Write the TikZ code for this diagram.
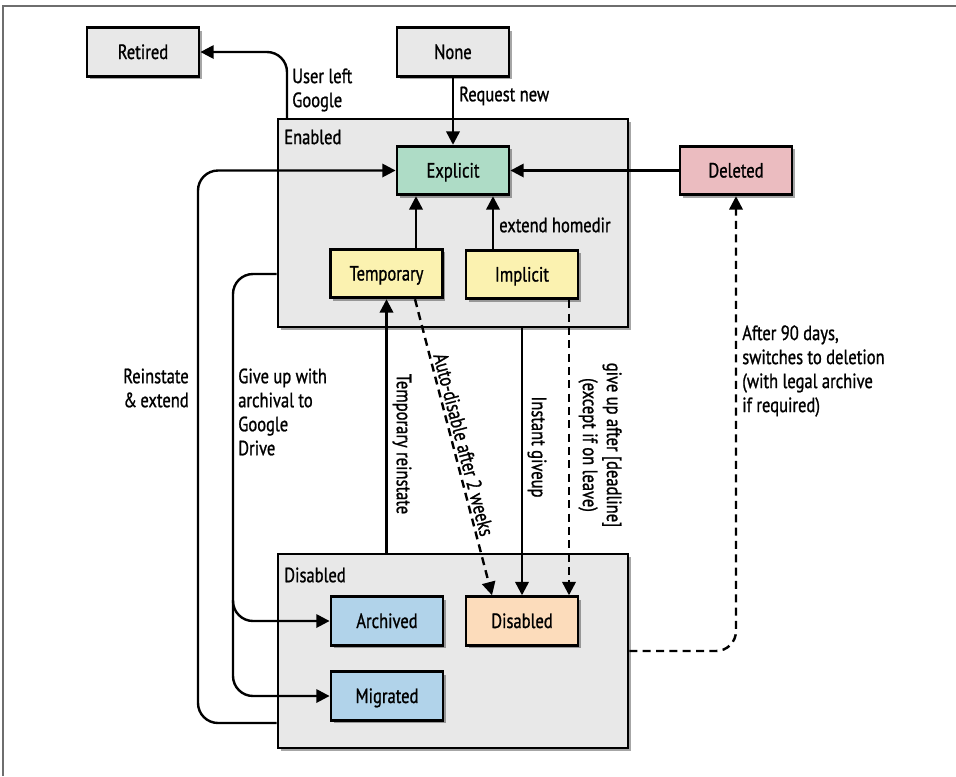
\documentclass[tikz,border=0pt]{standalone}
\usepackage{fontspec}
\setmainfont{PT Sans}[FakeStretch=0.8,FakeBold=1.0]
\usetikzlibrary{arrows.meta,shadows,calc}
\definecolor{boxgray}{HTML}{E8E8E8}
\definecolor{explicitgreen}{HTML}{AEDCC6}
\definecolor{deletedpink}{HTML}{EBBCC0}
\definecolor{tempyellow}{HTML}{FBF2B0}
\definecolor{archblue}{HTML}{B1D3EA}
\definecolor{disabledpeach}{HTML}{FCDCBB}
\definecolor{framegray}{HTML}{6E6E6E}
\begin{document}
\begin{tikzpicture}[x=0.75pt,y=-0.75pt,
  font=\fontsize{15.5}{18}\selectfont,
  shadowed/.style={drop shadow={shadow xshift=2.2pt,shadow yshift=-2.2pt,opacity=0.35,fill=black}},
  state/.style={draw=black,line width=2.1pt,minimum width=84pt,minimum height=36.5pt,
    inner sep=0pt,text height=12pt,text depth=1.5pt,shadowed},
  group/.style={draw=black,line width=2.1pt,fill=boxgray,inner sep=0pt,shadowed},
  conn/.style={line width=1.8pt,-{Triangle[length=10pt,width=10pt]}},
  dconn/.style={conn,dash pattern=on 6pt off 4pt},
  lbl/.style={inner sep=0pt}]
\useasboundingbox (0,0) rectangle (956,776);
\draw[framegray,line width=1.5pt] (3,776) -- (3,6) -- (956,6);

% group boxes
\node[group,minimum width=262.5pt,minimum height=156pt] (enabledbox) at (453,223) {};
\node[group,minimum width=262.5pt,minimum height=145.5pt] (disabledbox) at (453,651) {};
\node[lbl,anchor=west] (enabledlbl) at (284,137) {Enabled};
\node[lbl,anchor=west] (disabledlbl) at (284,575) {Disabled};

% states
\node[state,fill=boxgray] (retired) at (143,52) {Retired};
\node[state,fill=boxgray] (none) at (453,52) {None};
\node[state,fill=explicitgreen] (explicit) at (453,170.5) {Explicit};
\node[state,fill=deletedpink] (deleted) at (736,170.5) {Deleted};
\node[state,fill=tempyellow] (temporary) at (386.5,273.5) {Temporary};
\node[state,fill=tempyellow] (implicit) at (522,274.5) {Implicit};
\node[state,fill=archblue] (archived) at (387,621) {Archived};
\node[state,fill=disabledpeach] (disabled) at (522,621) {Disabled};
\node[state,fill=archblue] (migrated) at (387,696) {Migrated};

% connectors
\coordinate (retstart) at (287,119);
\draw[conn,rounded corners=15pt] (retstart) |- (retired.east);
\node[lbl,anchor=west,align=left] (userleft) at (292,90) {User left\\Google};

\draw[conn] (none) -- (explicit);
\node[lbl,anchor=west] (reqnew) at (459,96) {Request new};

\draw[conn] (deleted) -- (explicit);

\draw[conn] (temporary.north -| 416,0) -- (explicit.south -| 416,0);
\draw[conn] (implicit.north -| 493,0) -- (explicit.south -| 493,0);
\node[lbl,anchor=west] (extlbl) at (499,225) {extend homedir};

\draw[conn,rounded corners=15pt] (disabledbox.west |- 0,723) -- (198,723) |- (explicit.west);
\node[lbl,anchor=east,align=right] (reinstlbl) at (189,388) {Reinstate\\\&\,extend};

\draw[conn,rounded corners=15pt] (enabledbox.west |- 0,274) -- (233,274) |- (archived.west);
\coordinate (branch) at (233,600);
\draw[conn,rounded corners=15pt] (branch) |- (migrated.west);
\node[lbl,anchor=west,align=left] (giveuplbl) at (238,412) {Give up with\\archival to\\Google\\Drive};

\draw[conn] (disabledbox.north -| temporary) -- (temporary.south);
\node[lbl,rotate=-90] (tmplbl) at (402,444) {Temporary reinstate};

\draw[dconn] (temporary.south -| 415,0) -- (disabled.north -| 492,0)
  node[midway,sloped,above,inner sep=1.5pt] (autolbl) {Auto-disable after 2 weeks};

\draw[conn] (enabledbox.south -| disabled) -- (disabled.north);
\node[lbl,rotate=-90] (instlbl) at (537,447) {Instant giveup};

\draw[dconn] (implicit.south -| 569,0) -- (disabled.north -| 569,0);
\node[lbl,rotate=-90,align=center] (deadlbl) at (600,445) {give up after [deadline]\\(except if on leave)};

\draw[dconn,rounded corners=15pt] (disabledbox.east |- 0,651) -| (deleted.south);
\node[lbl,anchor=west,align=left] (afterlbl) at (742,371) {After 90 days,\\switches to deletion\\(with legal archive\\if required)};
\end{tikzpicture}
\end{document}
